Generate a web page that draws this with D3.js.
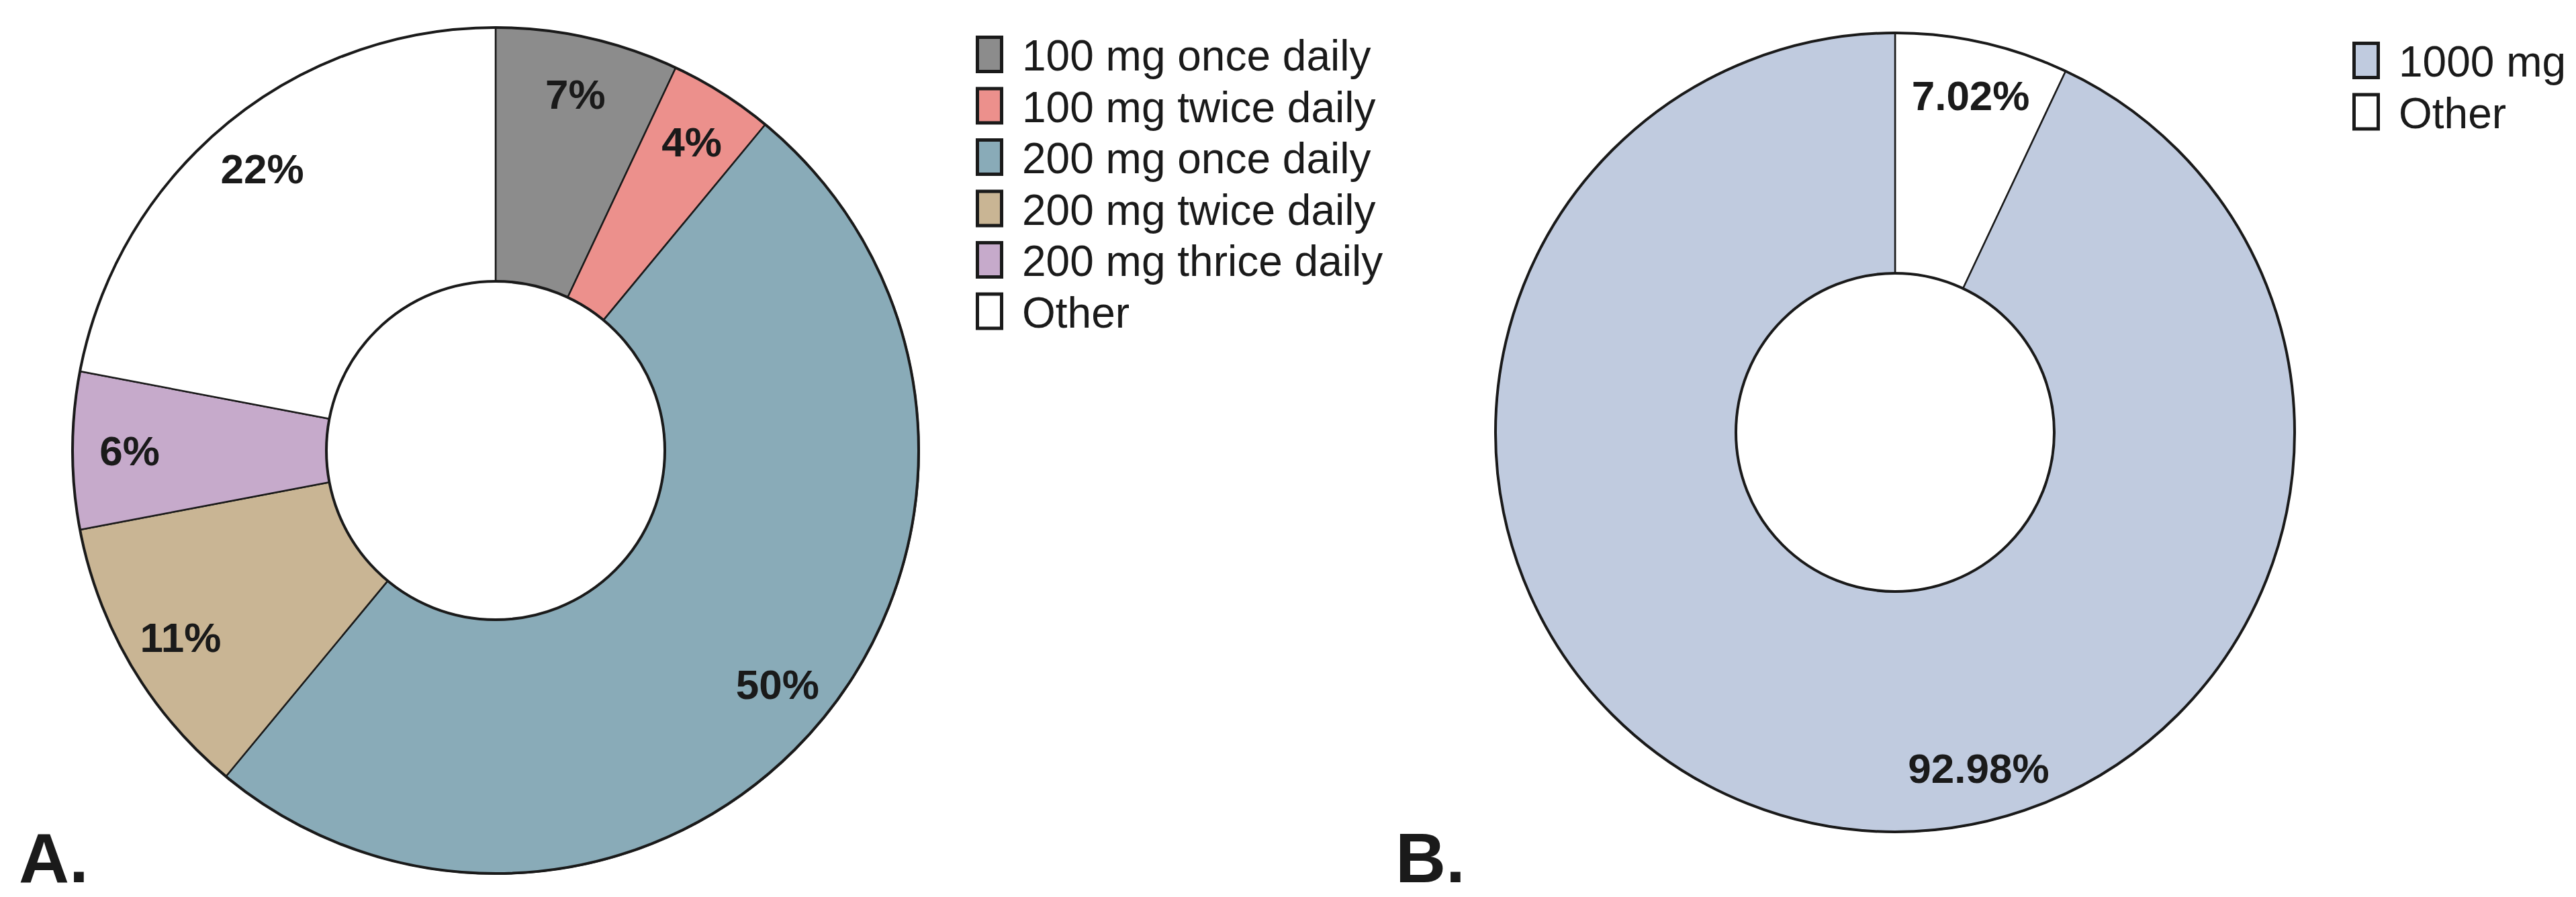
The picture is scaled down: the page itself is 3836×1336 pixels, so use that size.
<!DOCTYPE html>
<html>
<head>
<meta charset="utf-8">
<script src="https://cdn.jsdelivr.net/npm/d3@7"></script>
<style>
  html, body { margin: 0; padding: 0; background: #fff; }
  svg text { font-family: "Liberation Sans", Arial, Helvetica, sans-serif; fill: #1a1a1a; }
</style>
</head>
<body>
<div id="chart"></div>
<script>
// panel A: dosing regimens
const doseLabelsA = ["100 mg once daily", "100 mg twice daily", "200 mg once daily",
                     "200 mg twice daily", "200 mg thrice daily", "Other"];
const doseValuesA = [7, 4, 50, 11, 6, 22];
const doseTextA   = ["7%", "4%", "50%", "11%", "6%", "22%"];
const doseColorsA = ["#8c8c8c", "#ec908c", "#89abb8", "#c9b594", "#c6aacb", "#ffffff"];

// panel B: daily dose (slices drawn Other first, legend lists 1000 mg first)
const doseLabelsB = ["Other", "1000 mg"];
const doseValuesB = [7.02, 92.98];
const doseTextB   = ["7.02%", "92.98%"];
const doseColorsB = ["#ffffff", "#c0cbdf"];
const legendOrderB = [1, 0];

const W = 3836, H = 1336;

const svg = d3.select("#chart").append("svg")
    .attr("width", W).attr("height", H)
    .attr("viewBox", `0 0 ${W} ${H}`);

svg.append("rect").attr("width", W).attr("height", H).attr("fill", "#fff");

function drawDonut(opts)
{
    const { cx, cy, R, r, values, texts, colors, labelAngles } = opts;
    const g = svg.append("g").attr("transform", `translate(${cx},${cy})`);

    const pie = d3.pie().sort(null).value(d => d);
    const arcs = pie(values);

    const arc = d3.arc().innerRadius(r).outerRadius(R);
    const labelR = 0.865 * R;

    g.selectAll("path.slice")
        .data(arcs)
        .join("path")
        .attr("class", "slice")
        .attr("d", arc)
        .attr("fill", (d, i) => colors[i])
        .attr("stroke", "#1a1a1a")
        .attr("stroke-width", 2.5)
        .attr("stroke-linejoin", "round");

    // heavier rims
    [R, r].forEach(rad => {
        g.append("circle").attr("r", rad)
            .attr("fill", "none")
            .attr("stroke", "#1a1a1a")
            .attr("stroke-width", 4);
    });

    g.selectAll("text.pct")
        .data(arcs)
        .join("text")
        .attr("class", "pct")
        .attr("transform", (d, i) => {
            let a = (d.startAngle + d.endAngle) / 2;
            if (labelAngles && labelAngles[i] != null) a = labelAngles[i] * Math.PI / 180;
            return `translate(${labelR * Math.sin(a)},${-labelR * Math.cos(a)})`;
        })
        .attr("text-anchor", "middle")
        .attr("dy", "0.36em")
        .style("font-weight", "bold")
        .style("font-size", "62px")
        .text((d, i) => texts[i]);
}

function drawLegend(opts)
{
    const { x, y, labels, colors, order } = opts;
    const step = 76.5;
    const g = svg.append("g").attr("transform", `translate(${x},${y})`);
    const items = g.selectAll("g.item")
        .data(order)
        .join("g")
        .attr("class", "item")
        .attr("transform", (d, i) => `translate(0,${i * step})`);

    items.append("rect")
        .attr("x", 2.5).attr("y", 2.5)
        .attr("width", 36).attr("height", 51)
        .attr("fill", d => colors[d])
        .attr("stroke", "#1a1a1a")
        .attr("stroke-width", 5);

    items.append("text")
        .attr("x", 69).attr("y", 52)
        .style("font-size", "64px")
        .text(d => labels[d]);
}

drawDonut({ cx: 738, cy: 671, R: 630, r: 252,
            values: doseValuesA, texts: doseTextA, colors: doseColorsA });
drawLegend({ x: 1453, y: 53, labels: doseLabelsA, colors: doseColorsA,
             order: d3.range(doseLabelsA.length) });

drawDonut({ cx: 2822, cy: 644, R: 595, r: 237,
            values: doseValuesB, texts: doseTextB, colors: doseColorsB,
            labelAngles: [null, 166] });
drawLegend({ x: 3503, y: 62, labels: doseLabelsB, colors: doseColorsB, order: legendOrderB });

// panel letters
svg.append("text").attr("x", 28).attr("y", 1314)
    .style("font-weight", "bold").style("font-size", "104px").text("A.");
svg.append("text").attr("x", 2078).attr("y", 1314)
    .style("font-weight", "bold").style("font-size", "104px").text("B.");
</script>
</body>
</html>
